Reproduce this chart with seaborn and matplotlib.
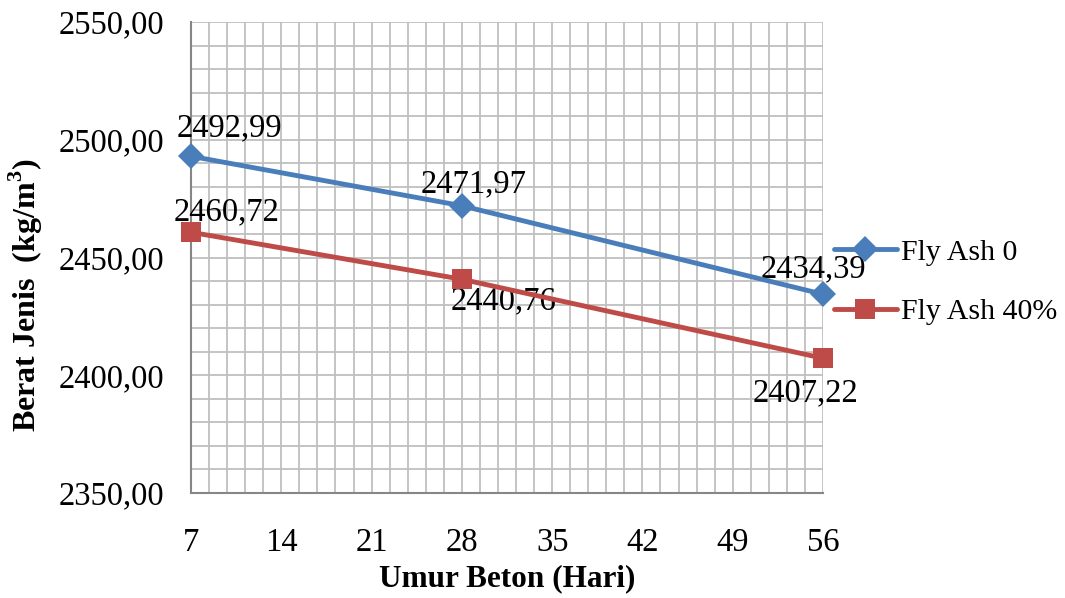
import matplotlib
matplotlib.use("Agg")
import matplotlib.pyplot as plt
import seaborn as sns
import pandas as pd
import numpy as np
from matplotlib.ticker import MultipleLocator, FuncFormatter
from matplotlib.lines import Line2D

days = [7, 28, 56]
fly_ash_0 = [2492.99, 2471.97, 2434.39]
fly_ash_40 = [2460.72, 2440.76, 2407.22]
series_names = ["Fly Ash 0", "Fly Ash 40%"]
x_ticks = [7, 14, 21, 28, 35, 42, 49, 56]

sns.set_theme(style="white")
plt.rcParams['font.family'] = ['Liberation Serif', 'DejaVu Serif']
plt.rcParams['mathtext.fontset'] = 'custom'
plt.rcParams['mathtext.rm'] = 'Liberation Serif'
plt.rcParams['mathtext.bf'] = 'Liberation Serif:bold'
plt.rcParams['text.color'] = 'black'
plt.rcParams['xtick.color'] = 'black'
plt.rcParams['ytick.color'] = 'black'
plt.rcParams['axes.labelcolor'] = 'black'

blue = "#4A7EBB"
red = "#BE4B48"

df = pd.DataFrame({
    "day": days * 2,
    "val": fly_ash_0 + fly_ash_40,
    "series": [series_names[0]] * 3 + [series_names[1]] * 3,
})

fig = plt.figure(figsize=(10.65, 5.98), dpi=100)
ax = fig.add_axes([191/1065, 1 - 493/598, (823-191)/1065, (493-22)/598])

dmk, smk = 13, 15
sns.lineplot(data=df[df.series == series_names[0]], x="day", y="val", ax=ax,
             color=blue, lw=3.5, marker="D", markersize=dmk, markeredgewidth=0,
             legend=False, clip_on=False, zorder=5)
sns.lineplot(data=df[df.series == series_names[1]], x="day", y="val", ax=ax,
             color=red, lw=3.5, marker="s", markersize=smk, markeredgewidth=0,
             legend=False, clip_on=False, zorder=5)

ax.set_xlim(7, 56)
ax.set_ylim(2350, 2550)
ax.set_xticks(x_ticks)
ax.xaxis.set_minor_locator(MultipleLocator(1.4))
ax.yaxis.set_major_locator(MultipleLocator(50))
ax.yaxis.set_minor_locator(MultipleLocator(10))
ax.yaxis.set_major_formatter(FuncFormatter(lambda v, p: f"{v:.2f}".replace(".", ",")))

ax.grid(True, which="both", color="#BFBFBF", lw=1.3)
ax.set_axisbelow(True)
for s in ["top", "right"]:
    ax.spines[s].set_visible(False)
for s in ["left", "bottom"]:
    ax.spines[s].set_color("#868686")
    ax.spines[s].set_linewidth(1.5)
    ax.spines[s].set_zorder(2)
ax.tick_params(axis="both", which="major", direction="out", length=7, width=1.5,
               color="#868686", labelsize=23.5)
ax.tick_params(axis="y", pad=12)
ax.tick_params(axis="both", which="minor", length=0)
ax.tick_params(axis="x", pad=18)

ax.set_xlabel("Umur Beton (Hari)", fontsize=22.5, fontweight="bold", labelpad=4)
ax.set_ylabel(r"Berat Jenis  (kg/m$^\mathbf{3}$)", fontsize=23, fontweight="bold")
ax.yaxis.set_label_coords(-0.231, 0.42)

labels0 = [f"{v:.2f}".replace(".", ",") for v in fly_ash_0]
labels40 = [f"{v:.2f}".replace(".", ",") for v in fly_ash_40]
fs = 23.5
ax.annotate(labels0[0], (days[0], fly_ash_0[0]), xytext=(38, 28), textcoords="offset pixels",
            ha="center", va="center", fontsize=fs, annotation_clip=False)
ax.annotate(labels0[1], (days[1], fly_ash_0[1]), xytext=(12, 22), textcoords="offset pixels",
            ha="center", va="center", fontsize=fs, annotation_clip=False)
ax.annotate(labels0[2], (days[2], fly_ash_0[2]), xytext=(-10, 25), textcoords="offset pixels",
            ha="center", va="center", fontsize=fs, annotation_clip=False)
ax.annotate(labels40[0], (days[0], fly_ash_40[0]), xytext=(36, 20), textcoords="offset pixels",
            ha="center", va="center", fontsize=fs, annotation_clip=False)
ax.annotate(labels40[1], (days[1], fly_ash_40[1]), xytext=(42, -22), textcoords="offset pixels",
            ha="center", va="center", fontsize=fs, annotation_clip=False)
ax.annotate(labels40[2], (days[2], fly_ash_40[2]), xytext=(-18, -35), textcoords="offset pixels",
            ha="center", va="center", fontsize=fs, annotation_clip=False)

handles = [
    Line2D([], [], color=blue, lw=3.5, marker="D", markersize=dmk, markeredgewidth=0),
    Line2D([], [], color=red, lw=3.5, marker="s", markersize=smk, markeredgewidth=0),
]
fig.legend(handles, series_names, loc="center left", bbox_to_anchor=(834/1065, 1 - 282/598),
           frameon=False, fontsize=21.5, handlelength=2.1, handletextpad=0.15,
           labelspacing=1.1, borderpad=0, borderaxespad=0)

fig.savefig("out.png", dpi=100, facecolor="white")
